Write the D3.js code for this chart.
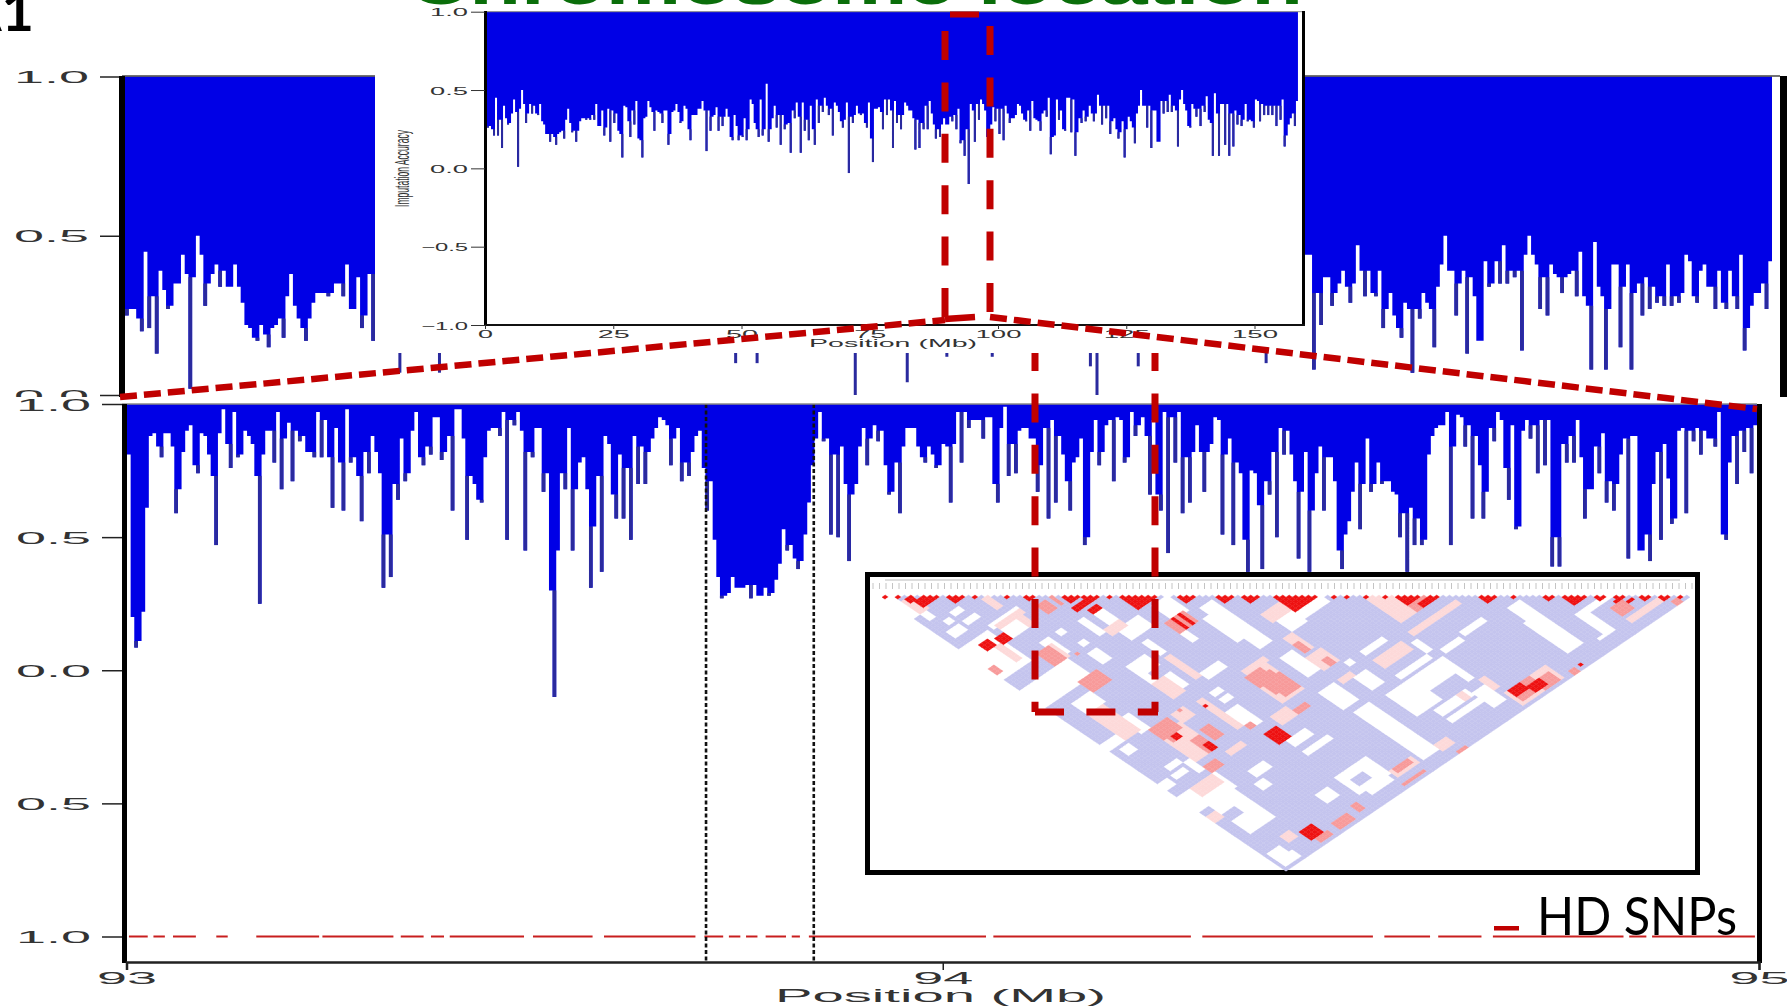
<!DOCTYPE html>
<html>
<head>
<meta charset="utf-8">
<title>Imputation accuracy</title>
<script src="https://cdn.jsdelivr.net/npm/d3@7"></script>
<style>
  html, body { margin: 0; padding: 0; background: #fff; overflow: hidden; }
  svg { display: block; }
  text { font-family: "Liberation Sans", Arial, sans-serif; fill: #333; }
</style>
</head>
<body>
<div id="chart"></div>
<script>
// values

// back panel, the part left of the inset
const backLeftValues = [.25,.27,.27,.24,.20,.45,.21,.31,.13,.39,.33,.27,.28,.35,.35,.44,.38,.02,.37,.50,.44,.28,.35,.38,.41,.34,.39,.34,.34,.41,.34,.29,.22,.21,.18,.17,.22,.19,.15,.21,.22,.24,.18,.31,.38,.28,.24,.21,.17,.24,.29,.32,.32,.32,.31,.32,.35,.35,.31,.41,.27,.27,.37,.21,.25,.38,.17];
// back panel, the part right of the inset
const backRightValues = [.44,.44,.08,.32,.22,.37,.37,.28,.32,.35,.39,.34,.29,.35,.47,.39,.31,.39,.32,.31,.39,.21,.27,.32,.25,.21,.18,.29,.27,.07,.27,.24,.32,.29,.27,.15,.34,.41,.50,.39,.39,.25,.35,.39,.13,.37,.31,.17,.17,.42,.34,.35,.42,.35,.47,.35,.39,.37,.39,.14,.44,.50,.44,.41,.27,.37,.25,.41,.38,.37,.32,.37,.38,.39,.31,.45,.31,.28,.08,.48,.34,.31,.08,.27,.41,.41,.15,.34,.41,.08,.32,.35,.25,.37,.27,.34,.29,.31,.28,.41,.28,.31,.29,.32,.44,.42,.31,.29,.39,.41,.34,.34,.27,.39,.29,.27,.39,.31,.27,.44,.14,.21,.28,.32,.32,.35,.27,.42];
// spikes of the back panel that stick out below the inset
const backSpikeMb = [93.335,93.383,93.535,93.742,93.768,93.887,93.95,93.998,94.053,94.172,94.18,94.23,94.385];
const backSpikeValues = [.07,.07,.12,.10,.10,0,.04,.12,.12,.09,0,.09,.10];

// front panel 93-95 Mb, left and right of the first red dashed line
const frontLeftValues = [.81,.20,.085,.11,.22,.61,.88,.89,.84,.80,.89,.89,.84,.59,.68,.82,.90,.92,.77,.74,.89,.88,.81,.73,.47,.89,.98,.85,.76,.97,.80,.81,.90,.88,.85,.73,.25,.81,.90,.90,.78,.97,.68,.87,.93,.71,.90,.86,.88,.82,.82,.80,.97,.80,.94,.80,.61,.91,.78,.60,.98,.78,.80,.73,.56,.82,.74,.88,.82,.74,.31,.51,.35,.70,.64,.87,.71,.74,.90,.97,.80,.77,.84,.81,.95,.95,.79,.82,.88,.60,.98,.98,.87,.49,.73,.70,.64,.63,.80,.90,.91,.91,.88,.97,.49,.94,.92,.97,.90,.45,.82,.80,.91,.91,.67,.74,.30,-.10,.45,.74,.68,.91,.45,.68,.78,.80,.68,.31,.54,.73,.37,.88,.85,.66,.57,.81,.57,.76,.49,.88,.70,.84,.70,.82,.87,.91,.95,.94,.92,.77,.87,.91,.71,.78,.73,.82,.88,.90,.76,.60,.71,.49,.35,.27,.28,.29,.35,.31,.31,.31,.32,.27,.32,.28,.28,.31,.28,.29,.34,.40,.53,.45,.47,.42,.38,.41,.51,.63,.77,.87,.97,.86,.87,.51,.81,.50,.84,.70,.41,.66,.70,.84,.91,.77,.87,.92,.86];
const frontRightValues = [.90,.77,.66,.67,.78,.59,.84,.91,.91,.91,.84,.80,.78,.84,.81,.76,.77,.85,.84,.63,.85,.97,.78,.97,.91,.94,.94,.94,.87,.95,.95,.70,.63,.91,.99,.73,.85,.74,.90,.91,.91,.87,.87,.67,.77,.91,.57,.94,.63,.88,.81,.71,.60,.78,.80,.87,.47,.50,.82,.94,.77,.82,.92,.94,.71,.95,.94,.78,.80,.97,.88,.92,.95,.88,.66,.94,.66,.60,.97,.44,.95,.78,.97,.59,.80,.63,.82,.92,.82,.67,.82,.85,.95,.94,.51,.81,.87,.47,.78,.74,.49,.37,.75,.74,.62,.38,.71,.66,.82,.50,.91,.81,.90,.81,.71,.42,.67,.82,.37,.60,.74,.84,.60,.80,.80,.71,.45,.38,.51,.56,.67,.78,.53,.70,.87,.67,.70,.78,.70,.71,.71,.67,.66,.50,.59,.37,.61,.47,.57,.47,.49,.81,.88,.91,.92,.92,.97,.47,.84,.96,.95,.84,.92,.57,.88,.77,.57,.67,.91,.86,.97,.94,.76,.64,.92,.53,.54,.90,.94,.87,.92,.74,.94,.77,.94,.39,.50,.39,.85,.78,.88,.78,.94,.80,.57,.68,.68,.84,.74,.89,.63,.71,.60,.70,.81,.87,.42,.88,.88,.45,.45,.51,.41,.70,.82,.49,.85,.72,.55,.57,.90,.91,.59,.90,.86,.91,.81,.90,.87,.87,.84,.97,.51,.49,.78,.88,.70,.90,.82,.91,.74,.92];
// segments of the HD SNP line, in Mb
const hdSegments = [[93.003,93.026],[93.033,93.047],[93.057,93.085],[93.110,93.124],[93.159,93.236],[93.240,93.327],[93.336,93.364],[93.373,93.389],[93.396,93.487],[93.498,93.571],[93.585,93.697],[93.708,93.731],[93.738,93.752],[93.759,93.773],[93.783,93.808],[93.815,93.825],[93.836,94.053],[94.062,94.304],[94.318,94.527],[94.541,94.597],[94.607,94.660],[94.674,94.834],[94.841,94.862],[94.869,94.995]];
const windowMb = [93.71, 93.842];

// inset, whole chromosome, split at the middle of the drawing
const insetLeftValues = [.26,.27,.25,.21,.45,.21,.31,.13,.40,.32,.28,.29,.35,.44,.36,.01,.38,.50,.41,.29,.35,.41,.35,.40,.35,.34,.41,.30,.28,.22,.22,.17,.22,.20,.15,.22,.23,.24,.19,.31,.38,.29,.23,.24,.17,.24,.30,.32,.32,.31,.32,.31,.34,.31,.41,.27,.27,.37,.21,.26,.38,.17,.37,.29,.35,.24,.22,.07,.40,.39,.30,.20,.37,.28,.43,.19,.18,.07,.32,.33,.43,.39,.36,.24,.37,.36,.35,.29,.37,.37,.15,.22,.36,.37,.41,.36,.29,.30,.40,.38,.25,.18,.34,.34,.34,.38,.38,.43,.37,.11,.37,.24,.33,.34,.39,.24,.33,.27,.33,.38,.33,.20,.18,.34,.27,.18,.21,.20,.32,.18,.25,.44,.41,.29,.25,.20,.44,.21,.25,.54,.17,.25,.32,.40,.26,.34,.15,.34,.25,.28,.29,.10,.37,.32,.42,.33,.10,.42,.24,.31,.18,.40,.25,.15,.44,.29,.40,.36,.45,.40,.34,.38,.21,.42,.40,.36,.30,.26,.31,.42,-.03,.33,.29,.34,.40,.35,.34,.35,.29,.26,.42,.19,.04,.38,.38,.39,.36,.25,.44,.34,.44,.37,.13,.43,.29,.34];
const insetRightValues = [.25,.34,.42,.40,.37,.37,.32,.12,.31,.13,.29,.25,.40,.25,.43,.35,.28,.19,.25,.20,.28,.32,.28,.28,.33,.30,.34,.25,.38,.16,.18,.08,.25,-.10,.41,.37,.17,.41,.31,.44,.41,.37,.20,.08,.28,.39,.30,.38,.22,.38,.18,.40,.35,.29,.32,.32,.34,.41,.40,.35,.31,.30,.37,.24,.43,.32,.31,.30,.24,.35,.37,.33,.45,.09,.20,.21,.44,.31,.37,.25,.24,.45,.45,.23,.44,.08,.23,.32,.29,.37,.30,.33,.40,.35,.30,.35,.47,.40,.28,.40,.32,.40,.22,.30,.32,.25,.19,.23,.30,.07,.25,.33,.30,.26,.16,.35,.40,.50,.40,.40,.26,.40,.13,.37,.37,.17,.17,.43,.35,.43,.36,.47,.36,.40,.37,.14,.44,.50,.41,.37,.27,.26,.41,.38,.33,.38,.27,.40,.36,.46,.31,.29,.08,.48,.35,.08,.41,.41,.15,.41,.08,.35,.14,.37,.28,.34,.27,.31,.41,.30,.31,.30,.26,.44,.43,.30,.41,.34,.40,.34,.40,.34,.40,.27,.40,.31,.44,.14,.21,.28,.32,.35,.27,.43];
const insetYTicks = [1, .5, 0, -.5, -1];
const insetXTicks = [0, 25, 50, 75, 100, 125, 150];

const panelYTicks = [1, .5, 0, -.5, -1];
const frontXTicks = [93, 94, 95];
const backYTicks = [1, .5, 0];

// LD triangle, regions are [i0, i1, j0, j1] of the SNP pairs
const ldSnpCount = 127;
const ldWhite = [[0,1,2,10],[2,3,10,13],[4,5,16,17],[7,9,15,16],[7,10,19,20],[2,5,19,21],[10,18,24,25],[11,17,27,30],[0,8,25,38],[0,14,44,51],[19,20,36,37],[14,16,36,42],[20,21,42,43],[19,21,46,50],[29,31,36,42],[25,26,37,43],[29,35,45,49],[22,27,55,68],[30,31,52,57],[40,44,45,51],[47,50,53,71],[38,39,53,59],[45,46,56,66],[32,37,68,70],[29,31,74,75],[29,31,77,78],[27,30,81,88],[7,10,55,59],[5,6,55,59],[9,11,66,72],[0,4,69,71],[2,4,73,75],[5,8,84,85],[4,7,87,88],[9,10,86,90],[0,2,87,89],[0,11,93,99],[3,10,100,112],[1,4,120,125],[30,35,97,99],[17,21,98,100],[15,17,102,104],
  [56,60,68,72],[61,68,69,71],[62,68,88,89],[48,51,77,85],[57,58,88,89],[55,58,93,98],[46,50,91,98],[56,73,102,111],[72,73,94,98],[75,80,100,101],[82,88,99,100],[62,71,99,100],[47,51,101,122],[60,69,113,115],[60,69,117,118],[70,73,115,121],[95,98,101,106],[94,98,107,120],[104,106,113,121],[105,113,113,114],[102,106,122,122],[22,25,114,117],[3,5,123,125],[30,37,102,103],[29,38,113,120],[31,37,121,122]];
// bites of plain lavender in the white blocks
const ldPlain = [[64,71,108,111],[3,6,104,106],[31,34,116,118],[24,27,60,62]];
const ldPale = [[2,4,5,10],[15,16,17,21],[11,18,25,26],[16,17,27,30],[14,15,38,43],[6,7,30,36],[27,31,43,45],[30,31,59,68],[22,25,63,69],[5,9,60,71],[18,21,73,76],[25,26,74,86],[11,17,76,87],[18,22,90,91],[4,10,93,96],[0,2,102,104],[38,44,76,87],[39,45,74,75],[53,55,73,79],[55,61,64,67],[33,37,89,92],[52,56,81,86],[62,70,92,95],[74,75,113,117],[67,68,113,115],[111,120,122,123],[52,55,121,123],[7,9,118,120],[75,87,75,87],[74,88,91,92],[52,55,91,92],[75,87,120,125],[39,45,120,122]];
const ldMid = [[22,24,27,30],[26,26,27,30],[11,14,38,43],[17,17,44,44],[0,1,34,36],[11,16,51,55],[38,43,51,55],[11,16,73,77],[12,14,76,79],[15,17,82,87],[19,21,81,85],[11,14,90,92],[38,42,76,80],[39,43,78,84],[40,44,80,86],[27,28,87,88],[38,41,91,92],[53,54,76,79],[54,55,84,86],[80,87,80,87],[76,82,120,124],[82,86,122,125],[90,91,125,126],[111,114,117,120],[122,123,125,126],[40,44,120,121],[38,44,125,125],[54,56,126,126],[18,22,123,125],[25,26,122,124],[12,15,124,125],[20,20,73,73]];
const ldRed = [[4,6,7,9],[3,4,5,6],[8,10,28,30],[4,6,27,29],[27,32,33,34],[29,31,36,37],[28,31,92,96],[40,40,51,55],[42,42,51,55],[25,25,76,76],[13,14,78,79],[16,17,85,87],[11,14,120,123],[93,93,125,125],[76,79,120,122],[80,83,122,124],[113,115,116,116],[82,86,86,87],[115,116,118,118]];
// red triangles along the top row, as SNP ranges
const ldRedBlocks = [[0,1],[2,3],[4,5],[7,9],[10,13],[14,15],[19,20],[22,24],[28,31],[31,34],[35,36],[37,43],[46,49],[52,55],[56,59],[61,68],[70,71],[72,73],[75,76],[78,79],[80,84],[85,87],[93,96],[98,99],[103,105],[106,110],[111,113],[114,115],[118,120],[121,123],[124,125]];

const colors = {
    blue: '#0000e6',
    spike: '#2b2b9e',
    red: '#c00000',
    line: '#c81e1e',
    lavender: '#c4c4ee',
    pale: '#fdd9d9',
    mid: '#f79a9a',
    ldRed: '#ee1111'
};

const svg = d3.select('#chart').append('svg')
    .attr('width', 1787)
    .attr('height', 1006);

const defs = svg.append('defs');
defs.append('filter').attr('id', 'soft')
    .attr('x', '-2%').attr('y', '-2%').attr('width', '104%').attr('height', '104%')
    .append('feGaussianBlur').attr('stdDeviation', 0.45);

// text that is stretched to a given width, as in the picture
function stretch(sel, width) {
    sel.attr('textLength', width).attr('lengthAdjust', 'spacingAndGlyphs');
}

// blue hanging from 1.0 down to each value, low narrow bars get the darker tone
function drawBars(g, values, xOf, barWidth, y) {
    const points = values.map((v, i) => ({ x: xOf(i), v }));
    points.push({ x: xOf(values.length - 1) + barWidth, v: values[values.length - 1] });

    const area = d3.area()
        .curve(d3.curveStepAfter)
        .x(d => d.x)
        .y0(y(1))
        .y1(d => y(d.v));

    g.append('path')
        .datum(points)
        .attr('d', area)
        .attr('fill', colors.blue);

    const spikes = values
        .map((v, i) => ({ v, i, floor: Math.min(i > 0 ? values[i - 1] : 1, i < values.length - 1 ? values[i + 1] : 1) }))
        .filter(d => d.v < d.floor);

    g.selectAll('rect.spike')
        .data(spikes)
        .enter().append('rect')
        .attr('class', 'spike')
        .attr('x', d => xOf(d.i))
        .attr('y', d => y(d.floor))
        .attr('width', barWidth)
        .attr('height', d => y(d.v) - y(d.floor))
        .attr('fill', colors.spike);
}

// back panel
const backX = d3.scaleLinear().domain([93, 95]).range([122, 1772]);
const backY = d3.scaleLinear().domain([0, 1]).range([395, 76.5]);
const backStep = 2 / 452;
const backBarWidth = backX(93 + backStep) - backX(93);
const backLeftBar = d3.scaleLinear().domain([0, backLeftValues.length]).range([125, 375]);
const back = svg.append('g');

const backBars = back.append('g').attr('filter', 'url(#soft)');
drawBars(backBars.append('g'), backLeftValues, i => backLeftBar(i), backLeftBar(1) - backLeftBar(0), backY);
drawBars(backBars.append('g'), backRightValues, i => backX(93 + (452 - backRightValues.length + i) * backStep), backBarWidth, backY);
backBars.selectAll('rect.hidden')
    .data(backSpikeValues)
    .enter().append('rect')
    .attr('class', 'hidden')
    .attr('x', (d, i) => backX(backSpikeMb[i]))
    .attr('y', backY(1))
    .attr('width', 3)
    .attr('height', d => backY(d) - backY(1))
    .attr('fill', colors.spike);

back.append('line').attr('x1', 122).attr('x2', 1780).attr('y1', 76).attr('y2', 76).attr('stroke', '#444').attr('stroke-width', 1.5);
back.append('rect').attr('x', 119).attr('y', 76).attr('width', 6).attr('height', 322).attr('fill', '#000');
back.append('rect').attr('x', 1780).attr('y', 76).attr('width', 7).attr('height', 321).attr('fill', '#000');

const backAxis = back.append('g')
    .attr('transform', 'translate(119,0)')
    .call(d3.axisLeft(backY).tickValues(backYTicks).tickSize(19).tickFormat(d3.format('.1f')));
backAxis.select('.domain').remove();
backAxis.selectAll('line').attr('stroke', '#222').attr('stroke-width', 1.5);
backAxis.selectAll('text')
    .attr('x', -105)
    .attr('text-anchor', 'start')
    .attr('dy', 6)
    .style('font-size', '17px')
    .call(stretch, 75);

// strip between the two panels
svg.append('rect').attr('x', 0).attr('y', 397).attr('width', 1787).attr('height', 7).attr('fill', '#fff');

// front panel
const frontX = d3.scaleLinear().domain([93, 95]).range([126.5, 1759]);
const frontY = d3.scaleLinear().domain([-1, 1]).range([936.5, 404]);
const frontValues = frontLeftValues.concat(frontRightValues);
const frontBar = d3.scaleLinear()
    .domain([0, frontLeftValues.length, frontValues.length])
    .range([127, 880, 1757]);
const front = svg.append('g');

drawBars(front.append('g').attr('filter', 'url(#soft)'), frontValues, i => frontBar(i), frontBar(1) - frontBar(0), frontY);

// HD SNPs line
front.append('g').selectAll('line')
    .data(hdSegments)
    .enter().append('line')
    .attr('x1', d => frontX(d[0]))
    .attr('x2', d => frontX(d[1]))
    .attr('y1', frontY(-1))
    .attr('y2', frontY(-1))
    .attr('stroke', colors.line)
    .attr('stroke-width', 2);

// window of the two dashed lines
front.append('g').selectAll('line')
    .data(windowMb)
    .enter().append('line')
    .attr('x1', d => frontX(d))
    .attr('x2', d => frontX(d))
    .attr('y1', 404)
    .attr('y2', 962)
    .attr('stroke', '#111')
    .attr('stroke-width', 2.6)
    .attr('stroke-dasharray', '4 2.5');

// frame of the front panel
front.append('line').attr('x1', 122).attr('x2', 1757).attr('y1', 404).attr('y2', 404).attr('stroke', '#888').attr('stroke-width', 1.5);
front.append('rect').attr('x', 122).attr('y', 404).attr('width', 5).attr('height', 559).attr('fill', '#000');
front.append('rect').attr('x', 1757).attr('y', 404).attr('width', 5).attr('height', 559).attr('fill', '#000');

const frontAxisY = front.append('g')
    .attr('transform', 'translate(122,0)')
    .call(d3.axisLeft(frontY).tickValues(panelYTicks).tickSize(20).tickFormat(d => d3.format('.1f')(Math.abs(d))));
frontAxisY.select('.domain').remove();
frontAxisY.selectAll('line').attr('stroke', '#222').attr('stroke-width', 1.5);
frontAxisY.selectAll('text')
    .attr('x', -106)
    .attr('text-anchor', 'start')
    .attr('dy', 6)
    .style('font-size', '17px')
    .call(stretch, 75);

const frontAxisX = front.append('g')
    .attr('transform', 'translate(0,962)')
    .call(d3.axisBottom(frontX).tickValues(frontXTicks).tickSize(8).tickFormat(d3.format('d')));
frontAxisX.select('.domain').attr('stroke', '#222').attr('stroke-width', 2.5);
frontAxisX.selectAll('line').attr('stroke', '#222').attr('stroke-width', 1.5);
frontAxisX.selectAll('text')
    .attr('y', 22)
    .attr('dy', 0)
    .style('font-size', '17px')
    .call(stretch, 60);

front.append('text')
    .attr('x', 775).attr('y', 1002)
    .style('font-size', '18px')
    .call(stretch, 331)
    .text('Position (Mb)');

// LD triangle
const ldFrame = svg.append('g');
ldFrame.append('rect')
    .attr('x', 867.5).attr('y', 574.5)
    .attr('width', 830).attr('height', 298)
    .attr('fill', '#fff')
    .attr('stroke', '#000')
    .attr('stroke-width', 5);

const snpX = d3.scaleLinear().domain([0, ldSnpCount - 1]).range([873, 1692]);
ldFrame.append('g').selectAll('line')
    .data(d3.range(ldSnpCount))
    .enter().append('line')
    .attr('x1', d => snpX(d)).attr('x2', d => snpX(d))
    .attr('y1', 583).attr('y2', 589)
    .attr('stroke', '#c4c4c4');
ldFrame.append('line')
    .attr('x1', 885).attr('x2', 1680).attr('y1', 580).attr('y2', 580)
    .attr('stroke', '#bbb').attr('stroke-width', 1);

const ldU = d3.scaleLinear().domain([0, ldSnpCount - 1]).range([882, 1690]);
const ldV = d3.scaleLinear().domain([0, ldSnpCount - 1]).range([595, 869]);
const halfW = (ldU(1) - ldU(0)) / 2;
const halfH = ldV(1) - ldV(0);

function inRegion(r, i, j) {
    return i >= r[0] && i <= r[1] && j >= r[2] && j <= r[3];
}

function ldColor(i, j) {
    if (ldRedBlocks.some(b => i >= b[0] && j <= b[1])) return colors.ldRed;
    if (ldRed.some(r => inRegion(r, i, j))) return colors.ldRed;
    if (ldMid.some(r => inRegion(r, i, j))) return colors.mid;
    if (ldPale.some(r => inRegion(r, i, j))) return colors.pale;
    if (ldPlain.some(r => inRegion(r, i, j))) return colors.lavender;
    if (ldWhite.some(r => inRegion(r, i, j))) return '#fff';
    return colors.lavender;
}

const ldCells = d3.range(ldSnpCount).flatMap(i =>
    d3.range(i + 1, ldSnpCount).map(j => ({ i, j, fill: ldColor(i, j) })));

ldFrame.append('g').selectAll('path')
    .data(ldCells)
    .enter().append('path')
    .attr('d', d => {
        const cx = ldU((d.i + d.j) / 2);
        const cy = ldV(d.j - d.i);
        return `M${cx - halfW},${cy}L${cx},${cy - halfH}L${cx + halfW},${cy}L${cx},${cy + halfH}Z`;
    })
    .attr('fill', d => d.fill)
    .attr('stroke', d => d.fill)
    .attr('stroke-width', 0.4);

// red window going down through the LD box
const redDash = '29 22.4';
const lowerWindow = svg.append('g')
    .attr('stroke', colors.red)
    .attr('stroke-width', 7)
    .attr('fill', 'none');
lowerWindow.append('line').attr('x1', 1035).attr('x2', 1035).attr('y1', 342).attr('y2', 712).attr('stroke-dasharray', redDash);
lowerWindow.append('line').attr('x1', 1155).attr('x2', 1155).attr('y1', 342).attr('y2', 712).attr('stroke-dasharray', redDash);
lowerWindow.append('line').attr('x1', 1035).attr('x2', 1158).attr('y1', 712).attr('y2', 712).attr('stroke-dasharray', redDash);

// white area behind the inset
svg.append('rect').attr('x', 375).attr('y', 0).attr('width', 930).attr('height', 353).attr('fill', '#fff');

// inset, whole chromosome
const insetX = d3.scaleLinear().domain([0, 150]).range([485, 1254.5]);
const insetY = d3.scaleLinear().domain([-1, 1]).range([325, 11.7]);
const insetValues = insetLeftValues.concat(insetRightValues);
const insetBar = d3.scaleLinear()
    .domain([0, insetLeftValues.length, insetValues.length])
    .range([487, 900, 1298]);
const inset = svg.append('g');

drawBars(inset.append('g').attr('filter', 'url(#soft)'), insetValues, i => insetBar(i), insetBar(1) - insetBar(0), insetY);

inset.append('line').attr('x1', 485).attr('x2', 1304).attr('y1', 11.7).attr('y2', 11.7).attr('stroke', '#888').attr('stroke-width', 1);
inset.append('rect').attr('x', 484).attr('y', 11).attr('width', 3).attr('height', 315).attr('fill', '#000');
inset.append('rect').attr('x', 1302).attr('y', 11).attr('width', 3).attr('height', 315).attr('fill', '#000');

const insetAxisY = inset.append('g')
    .attr('transform', 'translate(485,0)')
    .call(d3.axisLeft(insetY).tickValues(insetYTicks).tickSize(14).tickFormat(d3.format('.1f')));
insetAxisY.select('.domain').remove();
insetAxisY.selectAll('line').attr('stroke', '#333');
insetAxisY.selectAll('text')
    .attr('x', -17)
    .attr('dy', 4)
    .style('font-size', '10.5px')
    .each(function (d) { d3.select(this).call(stretch, d < 0 ? 47 : 38); });

const insetAxisX = inset.append('g')
    .attr('transform', 'translate(0,325)')
    .call(d3.axisBottom(insetX).tickValues(insetXTicks).tickSize(4));
insetAxisX.select('.domain').attr('d', 'M485,0H1305').attr('stroke', '#111').attr('stroke-width', 2);
insetAxisX.selectAll('line').attr('stroke', '#333');
insetAxisX.selectAll('text')
    .attr('y', 13)
    .attr('dy', 0)
    .style('font-size', '10.5px')
    .each(function (d) { d3.select(this).call(stretch, d === 0 ? 15 : d < 100 ? 32 : 46); });

inset.append('text')
    .attr('x', 809).attr('y', 347)
    .style('font-size', '10px')
    .call(stretch, 168)
    .text('Position (Mb)');

inset.append('text')
    .attr('transform', 'translate(409,207) rotate(-90)')
    .style('font-size', '20px')
    .call(stretch, 77)
    .text('Imputation Accuracy');

// red dashed lines on top
const upper = svg.append('g')
    .attr('stroke', colors.red)
    .attr('fill', 'none');
upper.append('line').attr('x1', 945).attr('x2', 945).attr('y1', 317).attr('y2', 30).attr('stroke-width', 7).attr('stroke-dasharray', redDash);
upper.append('line').attr('x1', 990).attr('x2', 990).attr('y1', 26).attr('y2', 315).attr('stroke-width', 7).attr('stroke-dasharray', redDash);
upper.append('line').attr('x1', 950).attr('x2', 979).attr('y1', 14.5).attr('y2', 14.5).attr('stroke-width', 6);
upper.append('line').attr('x1', 120).attr('x2', 945).attr('y1', 397).attr('y2', 320).attr('stroke-width', 6.5).attr('stroke-dasharray', '17 7');
upper.append('line').attr('x1', 945).attr('x2', 975).attr('y1', 319).attr('y2', 317).attr('stroke-width', 6.5);
upper.append('line').attr('x1', 990).attr('x2', 1757).attr('y1', 317).attr('y2', 409).attr('stroke-width', 6.5).attr('stroke-dasharray', '17 7');

// legend and labels
svg.append('rect').attr('x', 1494).attr('y', 926).attr('width', 25).attr('height', 4.5).attr('fill', colors.red);
svg.append('text')
    .attr('x', 1537).attr('y', 935)
    .style('font-family', 'Lato, "Open Sans", sans-serif')
    .style('font-size', '52px')
    .style('fill', '#000')
    .call(stretch, 200)
    .text('HD SNPs');

svg.append('text')
    .attr('x', 34).attr('y', 31)
    .attr('text-anchor', 'end')
    .style('font-family', 'Lato, "Open Sans", sans-serif')
    .style('font-weight', 700)
    .style('font-size', '56px')
    .style('fill', '#000')
    .text('A1');

svg.append('text')
    .attr('x', 408).attr('y', 3.5)
    .style('font-weight', 700)
    .style('font-size', '62px')
    .style('fill', '#0a6e0a')
    .call(stretch, 895)
    .text('Chromosome location');
</script>
</body>
</html>
